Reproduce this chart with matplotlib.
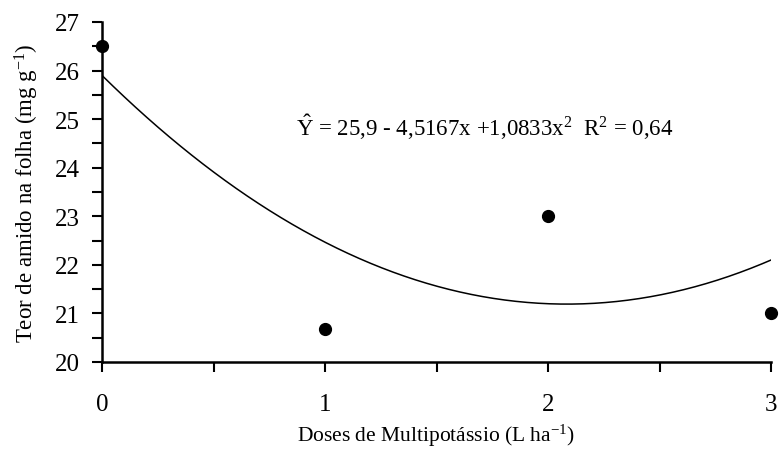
import numpy as np
import matplotlib
matplotlib.use("Agg")
import matplotlib.pyplot as plt
from matplotlib.ticker import MultipleLocator

# data
doses = [0, 1, 2, 3]
teor = [26.5, 20.67, 23.0, 21.0]
coef = [1.0833, -4.5167, 25.9]  # fitted quadratic (x^2, x, const)
equation = "$\\hat{\\mathrm{Y}}$ = 25,9 - 4,5167x +1,0833x$^2$  R$^2$ = 0,64"

plt.rcParams['font.family'] = ['Liberation Serif', 'DejaVu Serif']
plt.rcParams['mathtext.fontset'] = 'custom'
plt.rcParams['mathtext.rm'] = 'Liberation Serif'
plt.rcParams['mathtext.it'] = 'Liberation Serif:italic'

fig = plt.figure(figsize=(7.79, 4.64), dpi=100)
ax = fig.add_axes([102/779, 1 - 363/464, (771 - 102)/779, (363 - 23)/464])

xs = np.linspace(0, 3, 300)
ax.plot(xs, np.polyval(coef, xs), color='black', lw=1.1)
ax.plot(doses, teor, 'o', color='black', ms=8.5, clip_on=False, zorder=3)

ax.set_xlim(0, 3)
ax.set_ylim(20, 27)
ax.xaxis.set_major_locator(MultipleLocator(1))
ax.xaxis.set_minor_locator(MultipleLocator(0.5))
ax.yaxis.set_major_locator(MultipleLocator(1))
ax.yaxis.set_minor_locator(MultipleLocator(0.5))
ax.tick_params(which='both', direction='out', width=1.5, labelsize=18)
ax.tick_params(which='both', length=7)
ax.tick_params(axis='x', pad=15)
ax.tick_params(axis='y', pad=9)

for s in ['top', 'right']:
    ax.spines[s].set_visible(False)
for s in ['left', 'bottom']:
    ax.spines[s].set_linewidth(1.8)

ax.text(0.87, 24.85, equation, fontsize=16.5, va='center', ha='left')

ax.set_xlabel("Doses de Multipotássio (L ha$^{-1}$)", fontsize=15.5, labelpad=5)
ax.set_ylabel("Teor de amido na folha (mg g$^{-1}$)", fontsize=16.5, labelpad=10)

fig.savefig("out.png", dpi=100)
